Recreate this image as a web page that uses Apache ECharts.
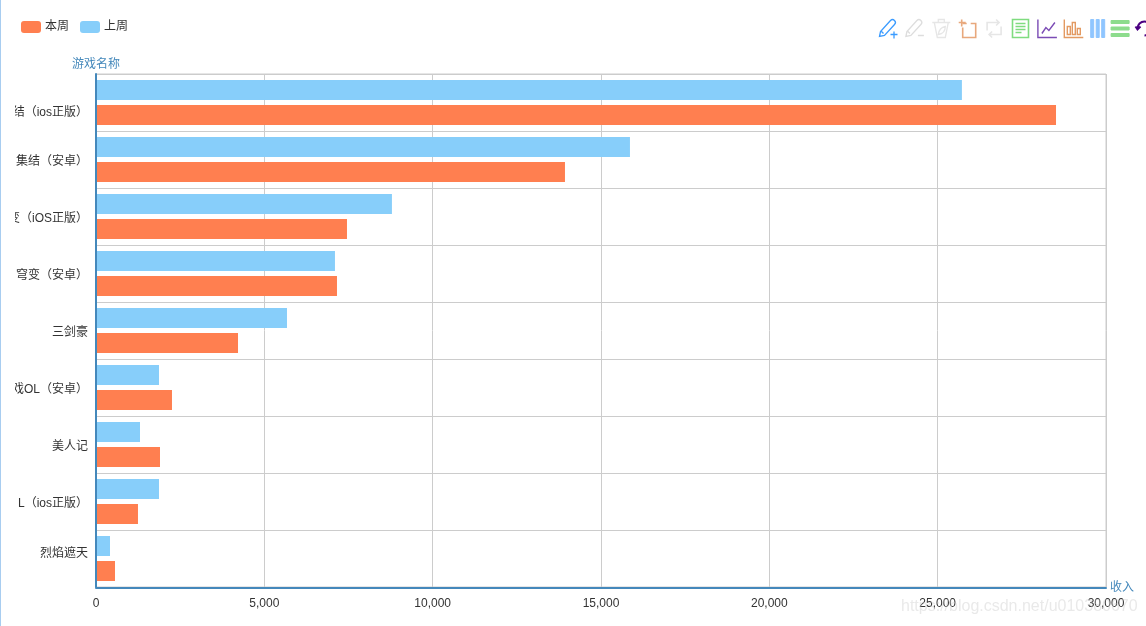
<!DOCTYPE html>
<html>
<head>
<meta charset="utf-8">
<title>游戏收入</title>
<style>
  html, body { margin: 0; padding: 0; background: #fff; overflow: hidden; width: 1146px; height: 626px; }
  /* wider than the window on purpose: the last toolbox icon runs off the right edge */
  #main { width: 1250px; height: 626px; }
</style>
<script src="https://cdn.jsdelivr.net/npm/echarts@6/dist/echarts.min.js"></script>
</head>
<body>
<div id="main"></div>
<script>
// 从下往上排，横向条形图的类目轴从底部开始
const categories = ['烈焰遮天', 'L（ios正版）', '美人记', '戏OL（安卓）', '三剑豪', '穹变（安卓）', '变（iOS正版）', '集结（安卓）', '结（ios正版）'];
const thisWeek = [564, 1247, 1901, 2257, 4218, 7158, 7455, 13930, 28515];
const lastWeek = [416, 1871, 1307, 1871, 5673, 7098, 8790, 15860, 25720];

const FONT = '"Liberation Sans", "Noto Sans CJK SC", sans-serif';
const AXIS_BLUE = '#4488bb';

// 工具栏图标，前面的零长度线段把每个图标的外框撑成一样大，间距才均匀
// title 留空：标题文字会算进图标宽度
const ICON_BOX = 'M0 0L0 0M20 20L20 20';
const tool = (color, path, width = 1.6, fill = 'none') => ({
  show: true,
  title: '',
  icon: 'path://' + ICON_BOX + path,
  iconStyle: { color: fill, borderColor: color, borderWidth: width },
  onclick: () => {},
});

const PEN = 'M1 18L2 13L12 2Q14 0 16 2Q18 4 16 6L6 17ZM3 13L5 15';
const toolbarFeature = {
  myMark: tool('#3a9bff', PEN + 'M12 16H19M15.5 13V20', 1.3),
  myMarkUndo: tool('#dddddd', PEN + 'M13 17H19', 1.3),
  myMarkClear: tool('#e6e6e6', 'M1 4H19M7 4V1H13V4M3 4L6 19H14L17 4M7 16Q8 9 14 8Q14 15 7 16Z', 1.3),
  myZoom: tool('#e8a87c', 'M5 5H9M13 5H18V19H5V9M4 1V8M1 4H8'),
  myZoomReset: tool('#e6e6e6', 'M3 12V4H15M12 1L15 4L12 7M17 8V16H5M8 13L5 16L8 19'),
  myDataView: tool('#7fdc7f', 'M2 1H18V19H2ZM5 5H15M5 8H15M5 11H15M5 14H11'),
  myLine: tool('#7b4bb5', 'M1 1V19H20M5 15L9 9L12 12L18 4', 1.4),
  myBar: tool('#e39a62', 'M1 1V19H20M4 8H7V16H4ZM9 4H12V16H9ZM14 10H17V16H14Z', 1.4),
  myStack: tool('#8fc6ff', 'M3 1H6V19H3ZM8.5 1H11.5V19H8.5ZM14 1H17V19H14Z', 1, '#8fc6ff'),
  myTiled: tool('#8ddc8d', 'M1 2H19V5H1ZM1 8.5H19V11.5H1ZM1 15H19V18H1Z', 1, '#8ddc8d'),
  myRestore: tool('#4b0082', 'M3 10A7 7 0 1 1 10 17M1 8L3 11L6 8', 2),
};

// 最上和最下两个类目文字向图内收
const labelFormatter = (value, index) => {
  if (index === categories.length - 1) return '{first|' + value + '}';
  if (index === 0) return '{last|' + value + '}';
  return value;
};

const chart = echarts.init(document.getElementById('main'));

chart.setOption({
  animation: false,
  textStyle: { fontFamily: FONT, fontSize: 12, color: '#333' },
  tooltip: { trigger: 'axis', axisPointer: { type: 'shadow' } },
  legend: {
    left: 21,
    top: 21,
    padding: 0,
    itemWidth: 20,
    itemHeight: 12,
    itemGap: 11,
    icon: 'roundRect',
    textStyle: { fontFamily: FONT, fontSize: 12, color: '#333', padding: [0, 0, 0, -1] },
    data: ['本周', '上周'],
  },
  toolbox: {
    show: true,
    left: 876,
    top: 16,
    padding: 0,
    itemSize: 20,
    itemGap: 1.4,
    showTitle: false,
    feature: toolbarFeature,
  },
  grid: { left: 96, width: 1010, top: 74, height: 513, show: true, borderColor: '#ccc', borderWidth: 1 },
  xAxis: {
    type: 'value',
    name: '收入',
    nameGap: 4,
    nameTextStyle: { color: AXIS_BLUE, fontFamily: FONT, fontSize: 12, padding: [4, 0, 0, 0] },
    min: 0,
    max: 30000,
    interval: 5000,
    offset: 1,
    axisLine: { show: true, lineStyle: { color: AXIS_BLUE, width: 2 } },
    axisTick: { show: false },
    axisLabel: { color: '#333', margin: 10, formatter: v => v.toLocaleString('en-US') },
    splitLine: { show: true, lineStyle: { color: '#ccc' } },
  },
  yAxis: [
    {
      type: 'category',
      position: 'left',
      name: '游戏名称',
      nameGap: 3,
      nameTextStyle: { color: AXIS_BLUE, fontFamily: FONT, fontSize: 12 },
      data: categories,
      axisLine: { show: false },
      axisTick: { show: false },
      axisLabel: {
        color: '#333',
        margin: 8,
        interval: 0,
        padding: [4, 0, 0, 0],
        formatter: labelFormatter,
        rich: {
          first: { color: '#333', fontFamily: FONT, fontSize: 12, padding: [16, 0, 0, 0] },
          last: { color: '#333', fontFamily: FONT, fontSize: 12, padding: [0, 0, 14, 0] },
        },
      },
      splitLine: { show: true, lineStyle: { color: '#ccc' } },
    },
    // 只画压在条形上面的轴线
    {
      type: 'category',
      position: 'left',
      data: categories,
      z: 5,
      axisLine: { show: true, onZero: false, lineStyle: { color: AXIS_BLUE, width: 2 } },
      axisTick: { show: false },
      axisLabel: { show: false },
      splitLine: { show: false },
    },
  ],
  series: [
    { name: '上周', type: 'bar', data: lastWeek, barWidth: 20, barGap: '25%', itemStyle: { color: '#87cefa' } },
    { name: '本周', type: 'bar', data: thisWeek, barWidth: 20, barGap: '25%', itemStyle: { color: '#ff7f50' } },
  ],
  graphic: {
    elements: [
      // 左侧类目文字被容器裁掉的部分
      { type: 'rect', z: 100, silent: true, shape: { x: 0, y: 74, width: 15, height: 520 }, style: { fill: '#fff' } },
      // 页面左边的浅蓝竖线
      { type: 'rect', z: 101, silent: true, shape: { x: 0, y: 0, width: 1, height: 626 }, style: { fill: '#a8cdf0' } },
      // 图片水印
      { type: 'text', z: 102, silent: true, x: 901, y: 599, style: { text: 'https://blog.csdn.net/u010380670', fill: 'rgba(200,200,200,0.4)', font: '16px "Liberation Sans", sans-serif' } },
    ],
  },
});

window.addEventListener('resize', () => chart.resize());
</script>
</body>
</html>
